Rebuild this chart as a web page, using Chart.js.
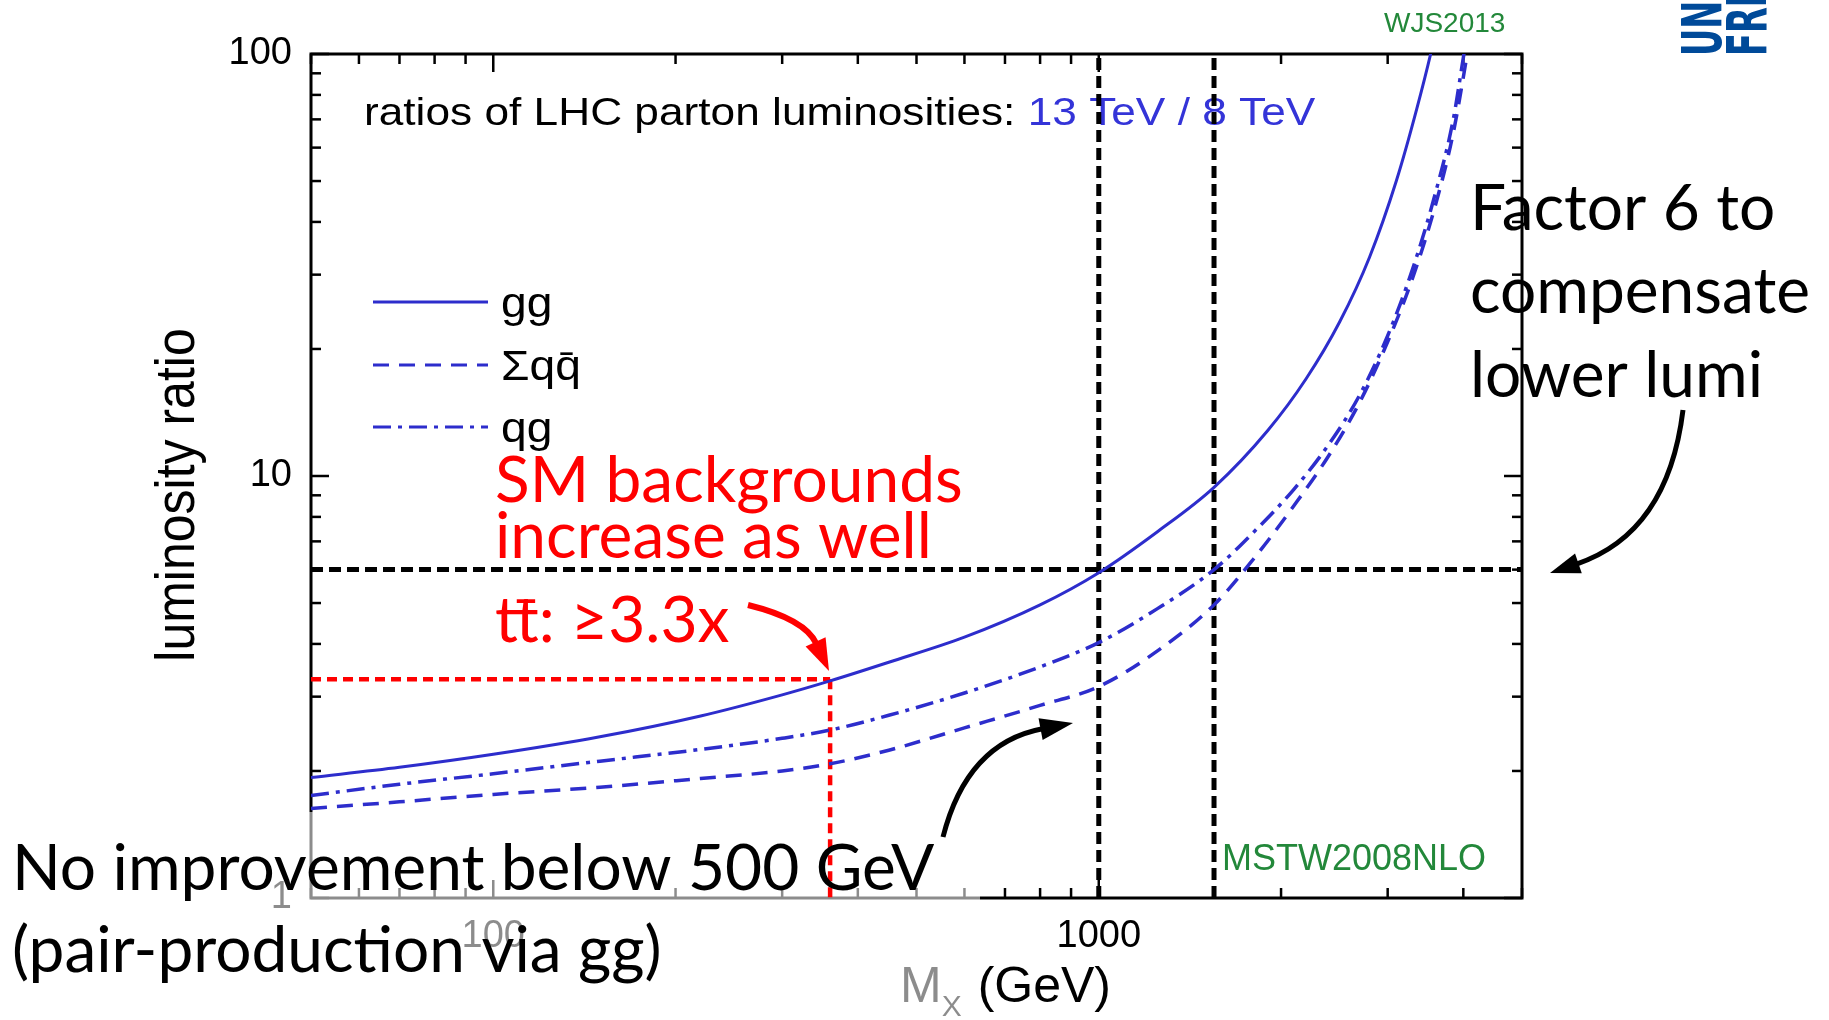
<!DOCTYPE html>
<html>
<head>
<meta charset="utf-8">
<title>LHC parton luminosity ratios 13 TeV / 8 TeV</title>
<script src="https://cdn.jsdelivr.net/npm/chart.js@4.4.1/dist/chart.umd.min.js"></script>
<style>
  html, body { margin: 0; padding: 0; background: #fff; overflow: hidden; }
</style>
</head>
<body>
<canvas id="lumiChart" width="1829" height="1020"></canvas>
<script>
// Luminosity ratio 13 TeV / 8 TeV vs mass M_X (GeV), MSTW2008NLO
const massGG  = [50, 70, 100, 150, 220, 300, 360, 450, 600, 800, 1000, 1250, 1550, 1900, 2200, 2500, 2800, 3100, 3350, 3560, 3650];
const ratioGG = [1.93, 2.04, 2.19, 2.41, 2.70, 3.03, 3.27, 3.62, 4.15, 4.95, 5.9, 7.38, 9.4, 12.8, 17.0, 23.2, 33, 50, 74, 105, 125];

const massQQ  = [50, 70, 100, 150, 220, 300, 360, 450, 600, 800, 1000, 1250, 1550, 1800, 2100, 2400, 2700, 3000, 3300, 3600, 3850, 4050, 4150];
const ratioQQ = [1.63, 1.69, 1.76, 1.83, 1.92, 2.00, 2.08, 2.24, 2.53, 2.86, 3.17, 3.85, 4.95, 6.35, 8.5, 11.2, 15.0, 20.8, 29.5, 44, 65, 98, 122];

const massQG  = [50, 70, 100, 150, 220, 300, 360, 450, 600, 800, 1000, 1250, 1550, 1800, 2100, 2400, 2700, 3000, 3300, 3600, 3850, 4000, 4100];
const ratioQG = [1.75, 1.86, 1.97, 2.11, 2.25, 2.39, 2.50, 2.71, 3.06, 3.53, 4.03, 4.85, 6.0, 7.35, 9.3, 11.9, 15.6, 21.5, 31, 47, 70, 98, 122];

// axis ranges and labelled ticks
const xRange = [50, 5000];
const yRange = [1, 100];
const xLabels = [100, 1000];
const yLabels = [1, 10, 100];

// guide lines: factor 6 and the masses where each channel reaches it
const factorRatio = 6;
const factorMasses = [1000, 1550];
// ttbar threshold
const ttMass = 360;
const ttRatio = 3.3;

const BLUE = '#2d2dcc';
const GREEN = '#23883a';

function pts(xs, ys) {
  return xs.map((v, i) => ({ x: v, y: ys[i] }));
}

function logTicks(min, max) {
  const out = [];
  for (let d = Math.pow(10, Math.floor(Math.log10(min))); d <= max; d *= 10) {
    for (let m = 1; m <= 9; m++) {
      const v = Math.round(m * d);
      if (v >= min && v <= max) out.push({ v: v, major: m === 1 });
    }
  }
  return out;
}

function line(ctx, x0, y0, x1, y1) {
  ctx.beginPath();
  ctx.moveTo(x0, y0);
  ctx.lineTo(x1, y1);
  ctx.stroke();
}

// text with optional horizontal stretch
function text(ctx, str, x, y, font, color, sx) {
  ctx.save();
  ctx.translate(x, y);
  ctx.scale(sx || 1, 1);
  ctx.font = font;
  ctx.fillStyle = color;
  ctx.textAlign = 'left';
  ctx.textBaseline = 'alphabetic';
  ctx.fillText(str, 0, 0);
  const w = ctx.measureText(str).width * (sx || 1);
  ctx.restore();
  return w;
}

function arrow(ctx, x0, y0, cx, cy, x1, y1, color, width, headLen, headW) {
  const dx = x1 - cx, dy = y1 - cy;
  const d = Math.hypot(dx, dy);
  const ux = dx / d, uy = dy / d;
  const bx = x1 - ux * headLen, by = y1 - uy * headLen;
  ctx.save();
  ctx.strokeStyle = color;
  ctx.fillStyle = color;
  ctx.lineWidth = width;
  ctx.lineCap = 'butt';
  ctx.beginPath();
  ctx.moveTo(x0, y0);
  ctx.quadraticCurveTo(cx, cy, bx + ux * 2, by + uy * 2);
  ctx.stroke();
  ctx.beginPath();
  ctx.moveTo(x1, y1);
  ctx.lineTo(bx - uy * headW / 2, by + ux * headW / 2);
  ctx.lineTo(bx + uy * headW / 2, by - ux * headW / 2);
  ctx.closePath();
  ctx.fill();
  ctx.restore();
}

// frame, ticks, titles, legend and the faded box under the bottom note
const framePlugin = {
  id: 'frame',
  beforeDatasetsDraw(chart) {
    const { ctx, chartArea: a, scales: { x, y } } = chart;
    ctx.save();
    ctx.strokeStyle = '#000';
    ctx.lineWidth = 2.5;
    logTicks(xRange[0], xRange[1]).forEach(t => {
      const px = x.getPixelForValue(t.v);
      const len = t.major ? 18 : 10;
      line(ctx, px, a.bottom, px, a.bottom - len);
      line(ctx, px, a.top, px, a.top + len);
    });
    logTicks(yRange[0], yRange[1]).forEach(t => {
      const py = y.getPixelForValue(t.v);
      const len = t.major ? 18 : 10;
      line(ctx, a.left, py, a.left + len, py);
      line(ctx, a.right, py, a.right - len, py);
    });
    ctx.lineWidth = 3;
    ctx.strokeRect(a.left, a.top, a.right - a.left, a.bottom - a.top);

    // axis titles
    ctx.save();
    ctx.translate(194, (a.top + a.bottom) / 2 + 19);
    ctx.scale(1.1, 1);
    ctx.rotate(-Math.PI / 2);
    ctx.font = '50px "Liberation Sans"';
    ctx.fillStyle = '#000';
    ctx.textAlign = 'center';
    ctx.fillText('luminosity ratio', 0, 0);
    ctx.restore();
    let tx = 900;
    tx += text(ctx, 'M', tx, 1002, '50px "Liberation Sans"', '#000');
    tx += text(ctx, 'X', tx, 1016, '30px "Liberation Sans"', '#000') + 16;
    text(ctx, '(GeV)', tx, 1002, '50px "Liberation Sans"', '#000');

    // heading
    const hw = text(ctx, 'ratios of LHC parton luminosities: ', 364, 125, '39px "Liberation Sans"', '#000', 1.134);
    text(ctx, '13 TeV / 8 TeV', 364 + hw, 125, '39px "Liberation Sans"', '#3434d8', 1.134);

    // legend
    const rows = [302, 365, 427];
    chart.data.datasets.slice(0, 3).forEach((ds, i) => {
      ctx.save();
      ctx.strokeStyle = ds.borderColor;
      ctx.lineWidth = 3;
      ctx.setLineDash(ds.borderDash || []);
      line(ctx, 373, rows[i], 488, rows[i]);
      ctx.restore();
      text(ctx, ds.label, 501, rows[i] + 15, '42px "Liberation Sans"', '#000', 1.1);
    });

    // faded panel behind the lower-left note
    ctx.fillStyle = 'rgba(255,255,255,0.55)';
    ctx.fillRect(0, 812, 980, 208);
    ctx.restore();
  },
  afterDraw(chart) {
    const { ctx } = chart;
    text(ctx, 'WJS2013', 1384, 32, '28px "Liberation Sans"', GREEN);
    text(ctx, 'MSTW2008NLO', 1222, 870, '36px "Liberation Sans"', GREEN);

    // logo, rotated
    ctx.save();
    ctx.fillStyle = '#004a99';
    ctx.font = 'bold 56px "DejaVu Sans"';
    ctx.translate(1721, 56);
    ctx.rotate(-Math.PI / 2);
    ctx.scale(0.6, 1);
    ctx.fillText('UNI', 0, 0);
    ctx.restore();
    ctx.save();
    ctx.fillStyle = '#004a99';
    ctx.font = 'bold 56px "DejaVu Sans"';
    ctx.translate(1766, 56);
    ctx.rotate(-Math.PI / 2);
    ctx.scale(0.6, 1);
    ctx.fillText('FREIBURG', 0, 0);
    ctx.restore();

    const big = '64px Lato';
    text(ctx, 'SM backgrounds', 495, 502, big, '#ff0000');
    text(ctx, 'increase as well', 495, 558, big, '#ff0000');
    text(ctx, 'tt\u0304: \u22653.3x', 495, 642, big, '#ff0000');

    text(ctx, 'Factor 6 to', 1470, 230, big, '#000');
    text(ctx, 'compensate', 1470, 313, big, '#000');
    text(ctx, 'lower lumi', 1470, 397, big, '#000');

    text(ctx, 'No improvement below 500 GeV', 12, 890, big, '#000');
    text(ctx, '(pair-production via gg)', 12, 972, big, '#000');

    arrow(ctx, 748, 605, 805, 619, 829, 671, '#ff0000', 6, 32, 22);
    arrow(ctx, 1683, 410, 1668, 533, 1550, 573, '#000', 5, 30, 21);
    arrow(ctx, 943, 837, 967, 743, 1073, 723, '#000', 5, 33, 22);
  }
};

const guide = (data, color, width, dash) => ({
  label: '', data: data, borderColor: color, borderWidth: width,
  borderDash: dash, pointRadius: 0, fill: false, tension: 0
});

const ctx = document.getElementById('lumiChart').getContext('2d');
const lumiChart = new Chart(ctx, {
  type: 'line',
  data: {
    datasets: [
      { label: 'gg', data: pts(massGG, ratioGG), borderColor: BLUE, borderWidth: 3,
        pointRadius: 0, fill: false, cubicInterpolationMode: 'monotone' },
      { label: '\u03a3qq\u0304', data: pts(massQQ, ratioQQ), borderColor: BLUE, borderWidth: 3.5,
        borderDash: [16, 10], pointRadius: 0, fill: false, cubicInterpolationMode: 'monotone' },
      { label: 'qg', data: pts(massQG, ratioQG), borderColor: BLUE, borderWidth: 3.5,
        borderDash: [18, 7, 4, 7], pointRadius: 0, fill: false, cubicInterpolationMode: 'monotone' },
      guide([{ x: xRange[0], y: factorRatio }, { x: xRange[1], y: factorRatio }], '#000', 5, [12, 6]),
      guide([{ x: factorMasses[0], y: yRange[0] }, { x: factorMasses[0], y: yRange[1] }], '#000', 5, [12, 6]),
      guide([{ x: factorMasses[1], y: yRange[0] }, { x: factorMasses[1], y: yRange[1] }], '#000', 5, [12, 6]),
      guide([{ x: xRange[0], y: ttRatio }, { x: ttMass, y: ttRatio }], '#ff0000', 4.5, [10, 6]),
      guide([{ x: ttMass, y: ttRatio }, { x: ttMass, y: yRange[0] }], '#ff0000', 4.5, [10, 6])
    ]
  },
  options: {
    responsive: false,
    animation: false,
    devicePixelRatio: 1,
    layout: { padding: { left: 0, top: 54, right: 307, bottom: 0 } },
    plugins: { legend: { display: false }, tooltip: { enabled: false } },
    scales: {
      x: {
        type: 'logarithmic', min: xRange[0], max: xRange[1],
        grid: { display: false, drawTicks: false }, border: { display: false },
        ticks: { autoSkip: false, maxRotation: 0, padding: 16, color: '#000',
                 font: { family: 'Liberation Sans', size: 38 }, callback: v => String(v) },
        afterBuildTicks: s => { s.ticks = xLabels.map(v => ({ value: v })); },
        afterFit: s => { s.height = 122; }
      },
      y: {
        type: 'logarithmic', min: yRange[0], max: yRange[1],
        grid: { display: false, drawTicks: false }, border: { display: false },
        ticks: { autoSkip: false, padding: 19, color: '#000',
                 font: { family: 'Liberation Sans', size: 38 }, callback: v => String(v) },
        afterBuildTicks: s => { s.ticks = yLabels.map(v => ({ value: v })); },
        afterFit: s => { s.width = 311; }
      }
    }
  },
  plugins: [framePlugin]
});
</script>
</body>
</html>
